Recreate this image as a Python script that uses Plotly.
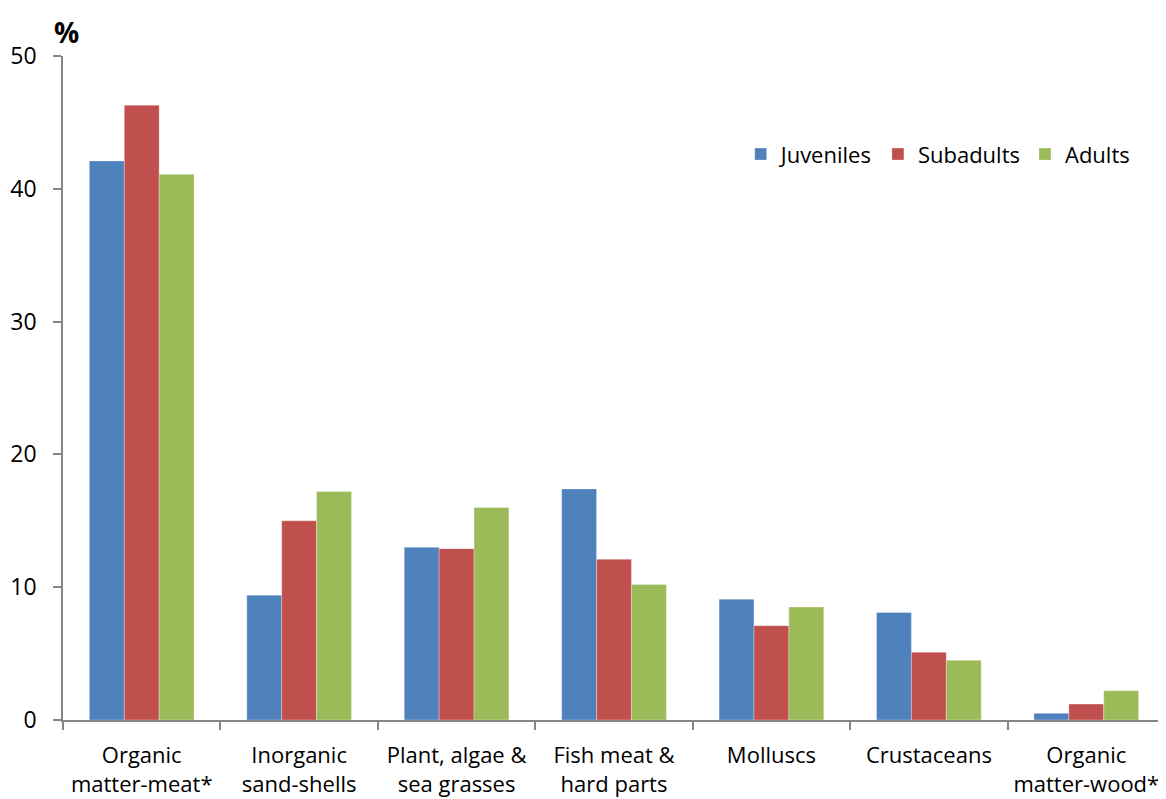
import plotly.graph_objects as go

categories = ["Organic<br>matter-meat*", "Inorganic<br>sand-shells", "Plant, algae &<br>sea grasses",
              "Fish meat &<br>hard parts", "Molluscs", "Crustaceans", "Organic<br>matter-wood*"]
juveniles = [42.1, 9.4, 13.0, 17.4, 9.1, 8.1, 0.5]
subadults = [46.3, 15.0, 12.9, 12.1, 7.1, 5.1, 1.2]
adults = [41.1, 17.2, 16.0, 10.2, 8.5, 4.5, 2.2]
series_names = ["Juveniles", "Subadults", "Adults"]
colors = ["#4F81BD", "#C0504D", "#9BBB59"]
y_ticks = [0, 10, 20, 30, 40, 50]

fig = go.Figure()
for name, vals, col in zip(series_names, [juveniles, subadults, adults], colors):
    fig.add_trace(go.Bar(x=categories, y=vals, name=name, marker_color=col,
                         marker_line=dict(color="rgba(255,255,255,0.6)", width=0.5)))

font_family = "Open Sans, Noto Sans, sans-serif"
fig.update_layout(
    width=1158, height=791,
    margin=dict(l=55, r=1, t=48, b=79),
    plot_bgcolor="white", paper_bgcolor="white",
    barmode="group", bargap=0.335, bargroupgap=0,
    font=dict(family=font_family, size=22, color="black"),
    showlegend=True,
    legend=dict(orientation="h", x=0.615, y=0.852, xanchor="left", yanchor="middle",
                font=dict(size=22), itemwidth=30, traceorder="normal",
                bgcolor="rgba(0,0,0,0)"),
    xaxis=dict(showline=True, linecolor="#868686", linewidth=1.5, ticks="outside",
               tickson="boundaries", ticklen=8, tickcolor="#868686", tickwidth=1.5,
               tickfont=dict(size=22), tickangle=0, showgrid=False, automargin=False,
               ticklabelstandoff=15),
    yaxis=dict(range=[0, 50], tickvals=y_ticks, showline=True, linecolor="#868686",
               linewidth=1.5, ticks="outside", ticklen=8, tickcolor="#868686", tickwidth=1.5,
               tickfont=dict(size=23), showgrid=False, zeroline=False, automargin=False,
               ticklabelstandoff=12),
    annotations=[dict(text="<b>%</b>", xref="paper", yref="paper", x=-0.01, y=1.036,
                      xanchor="left", yanchor="middle", showarrow=False,
                      font=dict(size=28, color="black"))],
)

fig.write_html("out.html")
